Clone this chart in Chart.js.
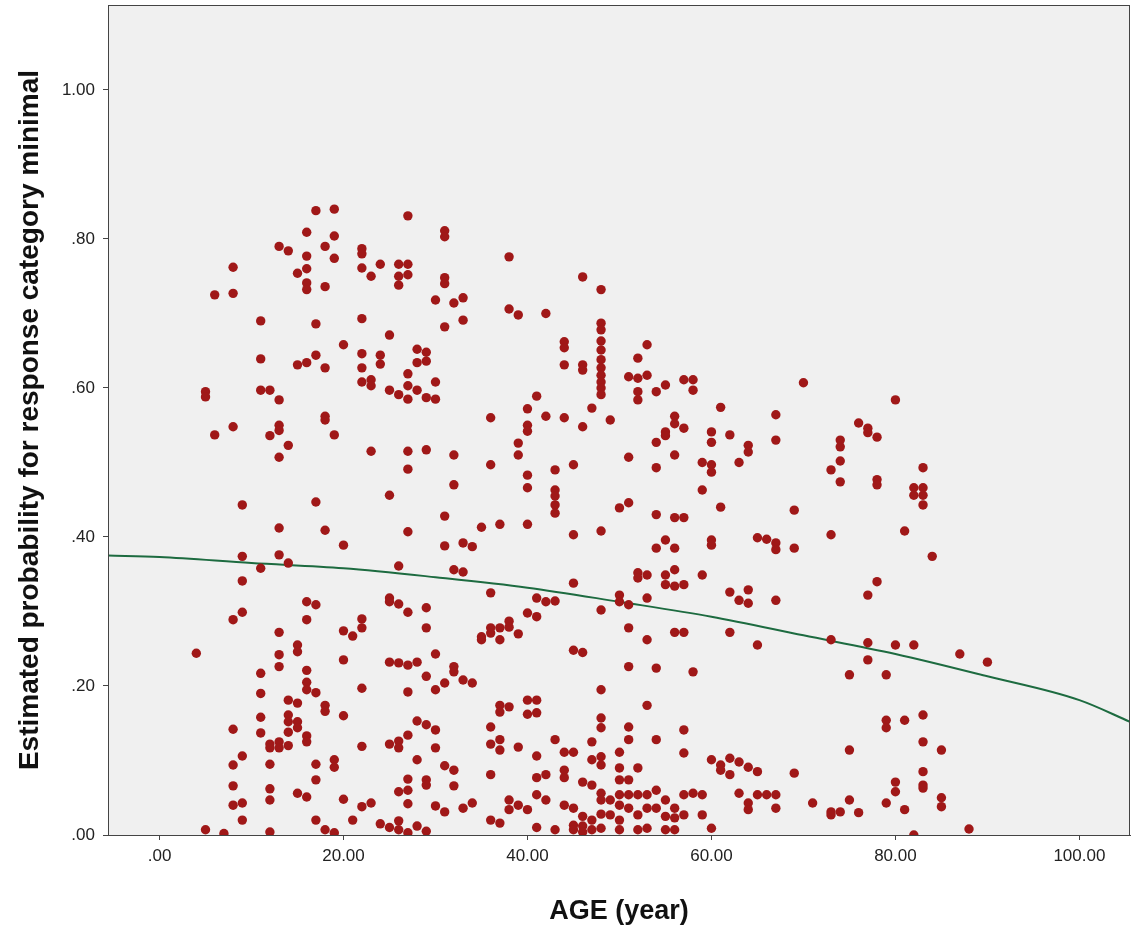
<!DOCTYPE html>
<html>
<head>
<meta charset="utf-8">
<script src="https://cdn.jsdelivr.net/npm/chart.js@4/dist/chart.umd.min.js"></script>
<style>
html,body{margin:0;padding:0;background:#fff;}
#wrap{width:1131px;height:930px;}
</style>
</head>
<body>
<div id="wrap"><canvas id="c" width="1131" height="930"></canvas></div>
<script>
// Observed points grouped by age (years)
const ageColumns = [4,5,6,7,8,9,11,12,13,14,15,16,17,18,19,20,21,22,23,24,25,26,27,28,29,30,31,32,33,34,35,36,37,38,39,40,41,42,43,44,45,46,47,48,49,50,51,52,53,54,55,56,57,58,59,60,61,62,63,64,65,66,67,69,70,71,73,74,75,76,77,78,79,80,81,82,83,84,85,87,88,90];
const probColumns = [
 [.244],
 [.595,.588,.007],
 [.725,.537],
 [.002],
 [.762,.727,.548,.289,.142,.094,.066,.04],
 [.443,.374,.341,.299,.106,.043,.02],
 [.69,.639,.597,.358,.217,.19,.158,.137],
 [.597,.536,.122,.117,.095,.062,.047,.004],
 [.79,.584,.55,.543,.507,.412,.376,.272,.242,.226,.125,.117],
 [.784,.523,.365,.181,.161,.152,.138,.12],
 [.754,.631,.255,.246,.177,.152,.144,.056],
 [.809,.777,.76,.741,.732,.634,.313,.289,.221,.205,.195,.133,.125,.051],
 [.838,.686,.644,.447,.309,.191,.095,.074,.02],
 [.79,.736,.627,.562,.557,.409,.174,.166,.007],
 [.84,.804,.774,.537,.101,.091,.003],
 [.658,.389,.274,.235,.16,.048],
 [.267,.02],
 [.787,.78,.761,.693,.646,.627,.608,.29,.278,.197,.119,.038],
 [.75,.611,.603,.515,.043],
 [.766,.644,.632,.015],
 [.671,.597,.456,.318,.313,.232,.122,.01],
 [.766,.75,.738,.591,.361,.31,.231,.126,.117,.058,.019,.007],
 [.831,.766,.752,.619,.603,.585,.515,.491,.407,.299,.228,.192,.134,.075,.06,.042,.003],
 [.652,.634,.597,.232,.153,.101,.012],
 [.648,.636,.587,.517,.305,.278,.213,.148,.074,.067,.005],
 [.718,.608,.585,.243,.195,.141,.117,.039],
 [.811,.803,.748,.74,.682,.428,.388,.204,.093,.031],
 [.714,.51,.47,.356,.226,.219,.087,.066],
 [.721,.691,.392,.353,.208,.036],
 [.387,.204,.043],
 [.413,.266,.262],
 [.56,.497,.325,.278,.271,.145,.122,.081,.02],
 [.417,.278,.262,.174,.165,.128,.114,.016],
 [.776,.706,.287,.279,.172,.047,.034],
 [.698,.526,.51,.27,.118,.04],
 [.572,.55,.542,.483,.466,.417,.298,.181,.162,.034],
 [.589,.318,.293,.181,.164,.106,.077,.054,.01],
 [.7,.562,.313,.081,.047],
 [.49,.463,.455,.443,.432,.314,.128,.007],
 [.662,.654,.631,.56,.111,.087,.077,.04],
 [.497,.403,.338,.248,.111,.036,.013,.007],
 [.749,.631,.624,.548,.245,.071,.025,.012,.004],
 [.573,.125,.101,.067,.02,.007],
 [.732,.687,.678,.663,.651,.638,.627,.617,.608,.6,.591,.408,.302,.195,.157,.144,.105,.094,.056,.047,.028,.009],
 [.557,.047,.027],
 [.439,.322,.313,.111,.09,.074,.054,.04,.02,.007],
 [.615,.507,.446,.309,.278,.226,.145,.128,.074,.054,.036],
 [.64,.613,.595,.584,.352,.345,.09,.054,.027,.007],
 [.658,.617,.349,.318,.262,.174,.054,.036,.009],
 [.595,.527,.493,.43,.385,.224,.128,.06,.036],
 [.604,.541,.536,.396,.349,.336,.047,.025,.007],
 [.562,.552,.51,.426,.385,.356,.334,.272,.036,.023,.007],
 [.611,.546,.426,.336,.272,.141,.11,.054,.027],
 [.611,.597,.219,.056],
 [.5,.463,.349,.054,.027],
 [.541,.527,.497,.487,.396,.389,.101,.009],
 [.574,.44,.094,.087],
 [.537,.326,.272,.103,.081],
 [.5,.315,.098,.056],
 [.523,.514,.329,.311,.091,.043,.034],
 [.399,.255,.085,.054],
 [.397,.054],
 [.564,.53,.392,.383,.315,.054,.036],
 [.436,.385,.083],
 [.607],
 [.043],
 [.49,.403,.262,.031,.027],
 [.53,.521,.502,.474,.031],
 [.215,.114,.047],
 [.553,.03],
 [.546,.54,.322,.258,.235],
 [.534,.477,.47,.34],
 [.215,.154,.144,.043],
 [.584,.255,.071,.058],
 [.408,.154,.034],
 [.466,.456,.255,.0],
 [.493,.466,.456,.443,.161,.125,.085,.067,.063],
 [.374],
 [.114,.05,.038],
 [.243],
 [.008],
 [.232]
];
// Fitted curve
const curveAges  = [-5.6, 0, 10, 20, 30, 40, 50, 60, 70, 80, 90, 100, 105.5];
const curveProbs = [.375, .373, .365, .358, .346, .332, .313, .293, .268, .243, .213, .181, .152];
const xTicks = [0, 20, 40, 60, 80, 100];
const yTicks = [0, 0.2, 0.4, 0.6, 0.8, 1.0];

const scatterData = [];
ageColumns.forEach((a, i) => probColumns[i].forEach(p => scatterData.push({x: a, y: p})));
const curveData = curveAges.map((a, i) => ({x: a, y: curveProbs[i]}));

const fmt = v => { const s = Number(v).toFixed(2); return s.startsWith('0') ? s.slice(1) : s; };

const bgPlugin = {
  id: 'bgPlugin',
  beforeDraw(chart) {
    const {ctx, chartArea: a} = chart;
    ctx.save();
    ctx.fillStyle = '#ffffff';
    ctx.fillRect(0, 0, chart.width, chart.height);
    ctx.fillStyle = '#f0f0f0';
    ctx.fillRect(a.left, a.top, a.right - a.left, a.bottom - a.top);
    ctx.restore();
  },
  afterDraw(chart) {
    const {ctx, chartArea: a} = chart;
    ctx.save();
    ctx.strokeStyle = '#444';
    ctx.lineWidth = 1;
    ctx.strokeRect(a.left + 0.5, a.top + 0.5, a.right - a.left - 1, a.bottom - a.top);
    ctx.restore();
  }
};

const tickFont = {family: '"Liberation Sans", Arial, sans-serif', size: 17};
const yTitleFont = {family: '"Liberation Sans", Arial, sans-serif', size: 28, weight: 'bold'};
const xTitleFont = {family: '"Liberation Sans", Arial, sans-serif', size: 27, weight: 'bold'};

new Chart(document.getElementById('c'), {
  type: 'scatter',
  data: {
    datasets: [
      {
        type: 'line', data: curveData, borderColor: '#1d6b40', borderWidth: 2,
        pointRadius: 0, tension: 0.4, cubicInterpolationMode: 'monotone', fill: false, order: 2
      },
      {
        data: scatterData, backgroundColor: '#a01818', borderColor: '#a01818',
        pointRadius: 4.7, pointHoverRadius: 4.7, borderWidth: 0, order: 1
      }
    ]
  },
  options: {
    responsive: false, animation: false,
    layout: {autoPadding: false, padding: {top: 5, right: 1, left: 0, bottom: 0}},
    plugins: {legend: {display: false}, tooltip: {enabled: false}},
    scales: {
      x: {
        type: 'linear', min: -5.6, max: 105.5,
        afterBuildTicks: s => { s.ticks = xTicks.map(v => ({value: v})); },
        afterFit: s => { s.height = 95; s.paddingLeft = 0; s.paddingRight = 0; },
        ticks: {callback: v => fmt(v), color: '#222', font: tickFont, padding: 6, maxRotation: 0},
        grid: {drawOnChartArea: false, drawTicks: true, tickLength: 5, color: '#444'},
        border: {display: true, color: '#444'},
        title: {display: true, text: 'AGE (year)', color: '#111', font: xTitleFont, padding: {top: 0, bottom: 2}}
      },
      y: {
        type: 'linear', min: 0, max: 1.114,
        afterBuildTicks: s => { s.ticks = yTicks.map(v => ({value: v})); },
        afterFit: s => { s.width = 108; s.paddingTop = 0; s.paddingBottom = 0; },
        ticks: {callback: v => fmt(v), color: '#222', font: tickFont, padding: 8},
        grid: {drawOnChartArea: false, drawTicks: true, tickLength: 5, color: '#444'},
        border: {display: true, color: '#444'},
        title: {display: true, text: 'Estimated probability for response category minimal', color: '#111', font: yTitleFont, padding: {top: 13, bottom: 0}}
      }
    }
  },
  plugins: [bgPlugin]
});
</script>
</body>
</html>
